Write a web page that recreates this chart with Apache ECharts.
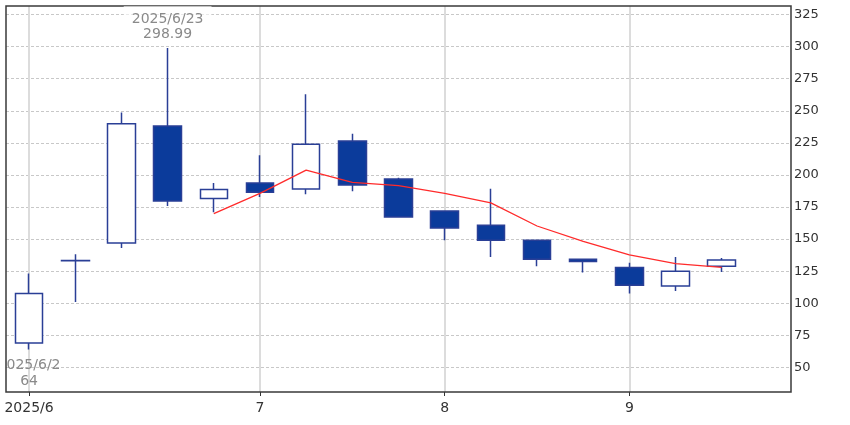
<!DOCTYPE html>
<html>
<head>
<meta charset="utf-8">
<script src="https://cdn.jsdelivr.net/npm/echarts@6/dist/echarts.min.js"></script>
<style>html,body{margin:0;padding:0;background:#fff}#c{width:850px;height:425px}</style>
</head>
<body>
<div id="c"></div>
<script>
// Weekly categories (last one is empty)
const dates = ['2025/6/2','2025/6/9','2025/6/16','2025/6/23','2025/6/30','2025/7/7','2025/7/14','2025/7/21','2025/7/28','2025/8/4','2025/8/11','2025/8/18','2025/8/25','2025/9/1','2025/9/8','2025/9/15','2025/9/22'];
// OHLC
const opens  = [69, 133.2, 147, 238.2, 181.6, 193.7, 189, 226.5, 196.8, 171.9, 160.7, 149, 134.2, 127.8, 113.4, 128.8];
const closes = [107.5, 133.3, 240, 179.7, 188.6, 186.5, 223.9, 192.2, 167.2, 158.6, 149, 134.2, 132.5, 114, 124.9, 133.7];
const lows   = [64, 101, 143, 175.8, 171, 182.8, 184.9, 187.2, 166.8, 149, 136, 128.8, 123.9, 107.5, 109.5, 124.3];
const highs  = [123.1, 138.1, 248.6, 298.99, 193.7, 215.3, 262.9, 232.2, 197.8, 172, 189.3, 149.5, 134.5, 131.5, 136, 135.2];
// Moving average line (red)
const maLine = ['-', '-', '-', '-', 169.8, 185.6, 203.7, 194.2, 191.7, 185.7, 178.2, 160.2, 148.3, 137.7, 130.9, 127.9];
// X tick labels (month starts)
const tickDates  = ['2025/6/2', '2025/7/7', '2025/8/4', '2025/9/1'];
const tickLabels = ['2025/6', '7', '8', '9'];
// Y tick labels
const yTicks = [50, 75, 100, 125, 150, 175, 200, 225, 250, 275, 300, 325];
const yMin = 30.8, yMax = 331.7;
// Annotations
const hiDate = '2025/6/23', hiValue = 298.99;
const loDate = '2025/6/2', loValue = 64;

const candleData = opens.map((o, i) => [o, closes[i], lows[i], highs[i]]);
const isTick = (idx) => tickDates.indexOf(dates[idx]) >= 0;

const chart = echarts.init(document.getElementById('c'), null, {renderer: 'canvas'});
chart.setOption({
  animation: false,
  backgroundColor: '#fff',
  grid: {left: 6, right: 59, top: 6, bottom: 33, show: true, borderColor: '#3a3a3a', borderWidth: 1.5, backgroundColor: 'transparent', z: 3},
  xAxis: {
    type: 'category',
    data: dates,
    boundaryGap: true,
    axisLine: {show: false},
    axisTick: {show: true, alignWithLabel: true, interval: (i) => isTick(i), length: 4, lineStyle: {color: '#333', width: 1}},
    axisLabel: {
      interval: (i) => isTick(i),
      formatter: (v) => { const k = tickDates.indexOf(v); return k >= 0 ? tickLabels[k] : ''; },
      color: '#333', fontFamily: 'DejaVu Sans', fontSize: 14, margin: 9
    },
    splitLine: {show: false}
  },
  yAxis: {
    type: 'value',
    position: 'right',
    min: yMin, max: yMax,
    axisLine: {show: false},
    axisTick: {show: false, customValues: yTicks},
    axisLabel: {customValues: yTicks, color: '#333', fontFamily: 'DejaVu Sans', fontSize: 13, margin: 3},
    splitLine: {show: true, lineStyle: {color: '#c8c8c8', type: [3, 2], width: 1}}
  },
  series: [
    {
      type: 'line',
      data: [],
      silent: true,
      markLine: {
        z: 0,
        silent: true, symbol: ['none', 'none'], label: {show: false},
        lineStyle: {color: '#dcdcdc', type: 'solid', width: 2},
        data: tickDates.map(d => ({xAxis: d}))
      },
      z: 0
    },
    {
      type: 'candlestick',
      data: candleData,
      barWidth: 28,
      itemStyle: {color: '#ffffff', color0: '#0b3b9b', borderColor: '#2a3f96', borderColor0: '#2a3f96', borderWidth: 1.5},
      z: 2
    },
    {
      type: 'line',
      data: maLine,
      showSymbol: false,
      symbol: 'none',
      lineStyle: {color: '#ff2b2b', width: 1.3},
      z: 4
    },
    {
      type: 'custom',
      clip: false,
      data: [[hiDate, hiValue]],
      renderItem: (params, api) => {
        const p = api.coord([api.value(0), api.value(1)]);
        return {
          type: 'text', x: p[0], y: p[1] - 6, z2: 10,
          style: {text: hiDate + '\n' + hiValue.toFixed(2), align: 'center', verticalAlign: 'bottom',
            fill: '#8a8a8a', font: '14px "DejaVu Sans"', lineHeight: 15,
            backgroundColor: 'rgba(255,255,255,0.6)', padding: [6, 8, 0, 8]}
        };
      },
      z: 5
    },
    {
      type: 'custom',
      clip: true,
      data: [[loDate, loValue]],
      renderItem: (params, api) => {
        const p = api.coord([api.value(0), api.value(1)]);
        return {
          type: 'text', x: p[0], y: p[1] + 8, z2: 10,
          style: {text: loDate + '\n' + String(loValue), align: 'center', verticalAlign: 'top',
            fill: '#8a8a8a', font: '14px "DejaVu Sans"', lineHeight: 16}
        };
      },
      z: 5
    }
  ]
});
</script>
</body>
</html>
